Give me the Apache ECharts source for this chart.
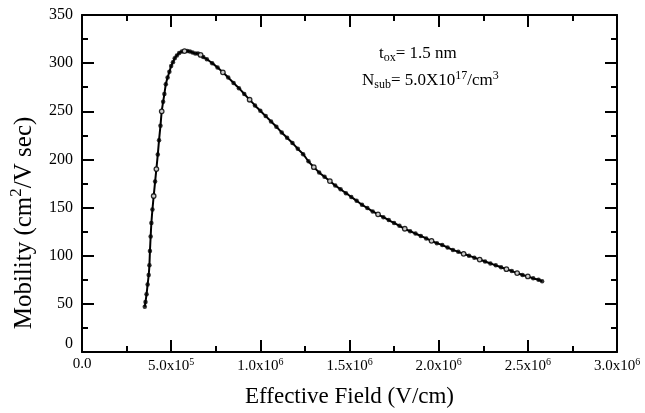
<!DOCTYPE html>
<html>
<head>
<meta charset="utf-8">
<script src="https://cdn.jsdelivr.net/npm/echarts@6/dist/echarts.min.js"></script>
<style>html,body{margin:0;padding:0;background:#fff}#c{width:645px;height:413px}</style>
</head>
<body>
<div id="c"></div>
<script>
// Effective field (units of 1e6 V/cm) and mobility (cm^2/V s)
var fieldE6 = [0.352,0.356,0.362,0.368,0.374,0.378,0.381,0.385,0.389,0.395,0.402,0.410,0.417,0.425,0.432,0.440,0.447,0.455,0.462,0.470,0.480,0.490,0.500,0.510,0.520,0.532,0.545,0.560,0.575,0.590,0.605,0.620,0.635,0.650,0.665,0.680,0.70,0.73,0.76,0.79,0.82,0.85,0.88,0.91,0.94,0.97,1.00,1.03,1.06,1.09,1.12,1.15,1.18,1.21,1.24,1.27,1.30,1.33,1.36,1.39,1.42,1.45,1.48,1.51,1.54,1.57,1.60,1.63,1.66,1.69,1.72,1.75,1.78,1.81,1.84,1.87,1.90,1.93,1.96,1.99,2.02,2.05,2.08,2.11,2.14,2.17,2.20,2.23,2.26,2.29,2.32,2.35,2.38,2.41,2.44,2.47,2.50,2.53,2.56,2.58];
var mobility = [47,52,60,70,80,90,105,120,134,148,162,177,190,205,220,235,250,260,268,278,285,291,297,301,305,308,310.5,312,312.5,312.5,312,311,310,310,308.5,306.5,304,300,295.5,290.5,285,279.5,274,268,262,256,250.5,245,239.5,234,228,222.5,217,211,205.5,198,192,186.5,182,177.5,173,169,165,161,157,153,149.5,146,143,140,137,134,131,128,125.5,123,120.5,118,115.5,113,111,108.5,106,104,102,100,98,96,94,92,90,88,86,84,82,80,78.5,76.5,75,73.5];
// open-circle points
var openE6 = [0.402,0.417,0.447,0.575,0.665,0.79,0.94,1.30,1.39,1.66,1.81,1.96,2.14,2.23,2.38,2.44,2.50];
var openMu = [162,190,250,312.5,308.5,290.5,262,192,177.5,143,128,115.5,102,96,86,82,78.5];
var xTicks = {0:'0.0',500000:'5.0x10{s|5}',1000000:'1.0x10{s|6}',1500000:'1.5x10{s|6}',2000000:'2.0x10{s|6}',2500000:'2.5x10{s|6}',3000000:'3.0x10{s|6}'};

var FONT = '"Liberation Serif","Times New Roman",serif';
var mainPts = fieldE6.map(function(e,i){return [e*1e6, mobility[i]];});
var openPts = openE6.map(function(e,i){return [e*1e6, openMu[i]];});

var axisCommon = {
  axisLine:{show:true,onZero:false,lineStyle:{color:'#000',width:2}},
  axisTick:{show:true,inside:true,length:12,lineStyle:{color:'#000',width:2}},
  minorTick:{show:true,splitNumber:2,length:6,lineStyle:{color:'#000',width:2}},
  splitLine:{show:false}
};
function ax(extra){var o=JSON.parse(JSON.stringify(axisCommon));for(var k in extra)o[k]=extra[k];return o;}

var chart = echarts.init(document.getElementById('c'));
chart.setOption({
  animation:false,
  backgroundColor:'#fff',
  grid:{left:82,right:28,top:15,bottom:61},
  xAxis:[
    ax({type:'value',min:0,max:3000000,interval:500000,position:'bottom',
      name:'Effective Field (V/cm)',nameLocation:'middle',nameGap:33,
      nameTextStyle:{fontFamily:FONT,fontSize:23,color:'#000'},
      axisLabel:{show:true,margin:5,color:'#000',fontFamily:FONT,fontSize:15,
        formatter:function(v){return xTicks[v]!==undefined?xTicks[v]:'';},
        rich:{s:{fontFamily:FONT,fontSize:10,color:'#000',padding:[0,0,8,0]}}}}),
    ax({type:'value',min:0,max:3000000,interval:500000,position:'top',axisLabel:{show:false}})
  ],
  yAxis:[
    ax({type:'value',min:0,max:350,interval:50,position:'left',
      axisLabel:{show:true,margin:9,color:'#000',fontFamily:FONT,fontSize:16,
        formatter:function(v){return v===0?'{z|0}':String(v);},
        rich:{z:{fontFamily:FONT,fontSize:16,color:'#000',padding:[0,0,16,0]}}}}),
    ax({type:'value',min:0,max:350,interval:50,position:'right',axisLabel:{show:false}})
  ],
  series:[
    {type:'line',data:mainPts,showSymbol:false,symbol:'none',smooth:0.2,
     lineStyle:{color:'#000',width:2},z:2},
    {type:'scatter',data:mainPts,symbol:'circle',symbolSize:4.5,
     itemStyle:{color:'#000'},z:3},
    {type:'scatter',data:openPts,symbol:'circle',symbolSize:4.5,
     itemStyle:{color:'#fff',borderColor:'#000',borderWidth:1.3},z:4}
  ],
  graphic:[
    {type:'text',x:24,y:223,rotation:Math.PI/2,
     style:{text:'Mobility (cm{s|2}/V sec)',font:'25px '+FONT,fill:'#000',align:'center',verticalAlign:'middle',
       rich:{s:{fontFamily:FONT,fontSize:17,fill:'#000',padding:[0,0,14,0]}}}},
    {type:'text',left:379,top:45,style:{text:'t{b|ox}= 1.5 nm',font:'17px '+FONT,fill:'#000',
      rich:{b:{fontFamily:FONT,fontSize:12,fill:'#000',padding:[9,0,0,0]}}}},
    {type:'text',left:362,top:70,style:{text:'N{b|sub}= 5.0X10{p|17}/cm{p|3}',font:'17px '+FONT,fill:'#000',
      rich:{b:{fontFamily:FONT,fontSize:12,fill:'#000',padding:[9,0,0,0]},
            p:{fontFamily:FONT,fontSize:12,fill:'#000',padding:[0,0,9,0]}}}}
  ]
});
</script>
</body>
</html>
